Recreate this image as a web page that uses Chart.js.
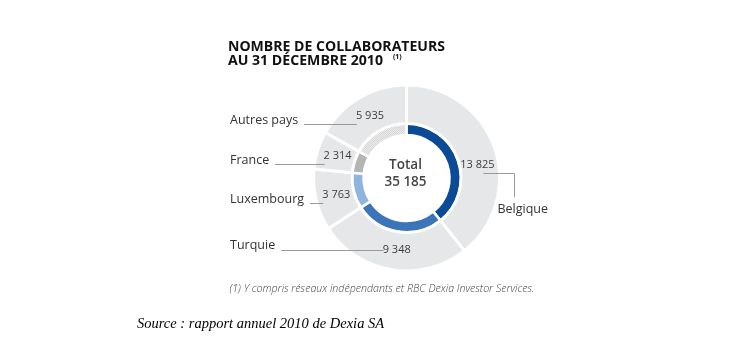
<!DOCTYPE html>
<html><head><meta charset="utf-8">
<script src="https://cdn.jsdelivr.net/npm/chart.js@4.4.0/dist/chart.umd.min.js"></script>
<style>html,body{margin:0;padding:0;background:#fff;}canvas{display:block}</style>
</head><body>
<canvas id="c" width="730" height="355"></canvas>
<script>
// ---- data ----
const titleLines = ['NOMBRE DE COLLABORATEURS', 'AU 31 DÉCEMBRE 2010'];
const titleNote = '(1)';
const categories = ['Belgique', 'Turquie', 'Luxembourg', 'France', 'Autres pays'];
const effectifs = [13825, 9348, 3763, 2314, 5935];
const totalTitle = 'Total';
const footnote = '(1) Y compris réseaux indépendants et RBC Dexia Investor Services.';
const sourceText = 'Source : rapport annuel 2010 de Dexia SA';

// ---- styles ----
function dotPattern() {
  const p = document.createElement('canvas');
  p.width = 2; p.height = 2;
  const g = p.getContext('2d');
  g.fillStyle = '#ebebeb'; g.fillRect(0, 0, 2, 2);
  g.fillStyle = '#d6d6d6'; g.fillRect(0, 0, 1, 1); g.fillRect(1, 1, 1, 1);
  return g.createPattern(p, 'repeat');
}
const innerColors = ['#0b4a97', '#3b74b7', '#8fb4de', '#b5b5b5', dotPattern()];
const fmt = v => String(v).replace(/\B(?=(\d{3})+(?!\d))/g, ' ');
const total = effectifs.reduce((a, b) => a + b, 0);

// draw left-aligned text stretched horizontally to a given width
function fitText(ctx, text, x, y, width) {
  const w = ctx.measureText(text).width;
  const s = width / w;
  ctx.save();
  ctx.translate(x, y);
  ctx.scale(s, 1);
  ctx.textAlign = 'left';
  ctx.fillText(text, 0, 0);
  ctx.restore();
}

const labelsPlugin = {
  id: 'labels',
  afterDraw(chart) {
    const ctx = chart.ctx;
    const meta = chart.getDatasetMeta(0);
    ctx.save();
    // title
    ctx.fillStyle = '#111';
    ctx.textBaseline = 'middle';
    ctx.font = 'bold 13.5px "Open Sans"';
    fitText(ctx, titleLines[0], 228, 47, 217);
    fitText(ctx, titleLines[1], 228, 61, 155);
    ctx.font = 'bold 7px "Open Sans"';
    ctx.textAlign = 'left';
    ctx.fillText(titleNote, 393, 57);

    // centre total
    const c0 = meta.data[0];
    const cx = c0.x, cy = c0.y;
    ctx.fillStyle = '#454545';
    ctx.textAlign = 'center';
    ctx.font = '600 13.5px "Open Sans"';
    ctx.fillText(totalTitle, cx - 1, cy - 13);
    ctx.fillText(fmt(total), cx - 1, cy + 4);

    // value labels and leaders
    meta.data.forEach((arc, i) => {
      const p = arc.getProps(['x', 'y', 'startAngle', 'endAngle', 'innerRadius', 'outerRadius'], true);
      let mid = (p.startAngle + p.endAngle) / 2;
      if (i === 0) mid += 8.5 * Math.PI / 180;
      if (i === 1) mid -= 1.5 * Math.PI / 180;
      const r = (p.innerRadius + p.outerRadius) / 2 - 1.5;
      const vx = p.x + r * Math.cos(mid), vy = p.y + r * Math.sin(mid);
      ctx.font = '11px "Open Sans"';
      ctx.fillStyle = '#3c3c3c';
      ctx.textAlign = 'center';
      const txt = fmt(effectifs[i]);
      const vw = ctx.measureText(txt).width;
      ctx.fillText(txt, vx, vy);
      ctx.strokeStyle = '#9a9a9a';
      ctx.lineWidth = 1;
      ctx.font = '12.5px "Open Sans"';
      ctx.fillStyle = '#333';
      if (i === 0) {
        const ly = Math.round(vy + 8.5) + 0.5;
        const lx = Math.round(vx + 37) + 0.5;
        ctx.beginPath();
        ctx.moveTo(vx + 6, ly); ctx.lineTo(lx, ly); ctx.lineTo(lx, vy + 32.5);
        ctx.stroke();
        ctx.textAlign = 'left';
        ctx.fillText(categories[i], vx + 20, vy + 45);
      } else {
        const bottom = i === 1;
        const ly = Math.round(bottom ? vy + 0.5 : vy + 8) + 0.5;
        const ny = bottom ? vy - 4.5 : vy + 4.5;
        const nx = p.x - 176.5;
        ctx.textAlign = 'left';
        ctx.fillText(categories[i], nx, ny);
        const nw = ctx.measureText(categories[i]).width;
        ctx.beginPath();
        ctx.moveTo(nx + nw + 6, ly); ctx.lineTo(vx - vw / 2 + 1, ly);
        ctx.stroke();
      }
    });

    // footnote and source
    ctx.fillStyle = '#444';
    ctx.font = 'italic 300 10px "Open Sans"';
    fitText(ctx, footnote, 229.5, 289.5, 305);
    ctx.fillStyle = '#000';
    ctx.textBaseline = 'alphabetic';
    ctx.textAlign = 'left';
    ctx.font = 'italic 14.5px "Liberation Serif"';
    ctx.fillText(sourceText, 137, 328);
    ctx.restore();
  }
};

new Chart(document.getElementById('c'), {
  type: 'doughnut',
  data: {
    labels: categories,
    datasets: [
      { data: effectifs, backgroundColor: '#e6e7e8', borderColor: '#ffffff', borderWidth: 3, weight: 38.5 },
      { data: effectifs, backgroundColor: innerColors, borderColor: '#ffffff', borderWidth: 2.5, weight: 11.5 }
    ]
  },
  options: {
    responsive: false,
    animation: false,
    events: [],
    radius: 93,
    cutout: '46.24%',
    layout: { padding: { left: 306.5, right: 223.5, top: 78, bottom: 77 } },
    plugins: { legend: { display: false }, tooltip: { enabled: false } }
  },
  plugins: [labelsPlugin]
});
</script>
</body></html>
